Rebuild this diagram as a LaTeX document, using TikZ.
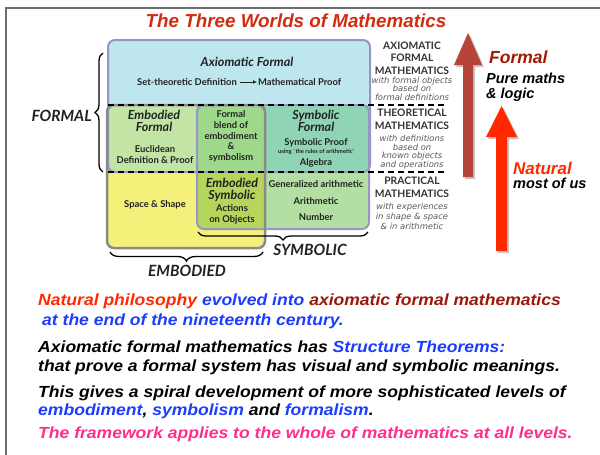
\documentclass[tikz,border=0pt]{standalone}
\usepackage{fontspec}
\setmainfont{Liberation Sans}
\newfontfamily\optfont{Lato}
\newfontfamily\notefont{DejaVu Sans}
\newfontfamily\bodyfont[FakeStretch=1.09]{Liberation Sans}
\usepackage{xcolor}
\usetikzlibrary{positioning,arrows.meta,decorations.pathreplacing}

\definecolor{titlered}{RGB}{208,44,14}
\definecolor{formalred}{RGB}{160,26,4}
\definecolor{natred}{RGB}{255,40,0}
\definecolor{evblue}{RGB}{28,60,255}
\definecolor{axred}{RGB}{156,24,10}
\definecolor{fwpink}{RGB}{255,46,140}
\definecolor{axblue}{RGB}{190,230,238}
\definecolor{embgreen}{RGB}{194,229,166}
\definecolor{blendgreen}{RGB}{158,217,139}
\definecolor{symgreen}{RGB}{143,213,181}
\definecolor{genargreen}{RGB}{180,223,163}
\definecolor{shapeyellow}{RGB}{244,240,122}
\definecolor{overlapgreen}{RGB}{181,214,90}
\definecolor{lavender}{RGB}{150,150,196}
\definecolor{embgray}{RGB}{138,138,138}
\definecolor{cellink}{RGB}{34,34,34}
\definecolor{colink}{RGB}{50,50,50}
\definecolor{notegray}{RGB}{90,90,90}
\definecolor{framegray}{RGB}{110,110,110}
\definecolor{brownarrow}{RGB}{182,68,58}
\definecolor{redarrow}{RGB}{255,40,0}

\begin{document}
\begin{tikzpicture}[x=1pt, y=-1pt,
    title/.style={inner sep=0pt, text=titlered,
        font=\bfseries\itshape\fontsize{18.8}{20}\selectfont},
    worldlbl/.style={inner sep=0pt, text=cellink,
        font=\optfont\bfseries\itshape\fontsize{15.5}{16}\selectfont},
    cellhead/.style={inner sep=0pt, align=center, text=cellink,
        font=\optfont\bfseries\itshape\fontsize{12.5}{12.5}\selectfont},
    celltext/.style={inner sep=0pt, align=center, text=cellink,
        font=\optfont\bfseries\fontsize{9.4}{10.7}\selectfont},
    tinytext/.style={inner sep=0pt, text=cellink,
        font=\optfont\bfseries\fontsize{5.8}{6}\selectfont},
    colhead/.style={inner sep=0pt, align=center, text=colink,
        font=\optfont\bfseries\fontsize{10.3}{12.5}\selectfont},
    colnote/.style={inner sep=0pt, align=center, text=notegray,
        font=\notefont\itshape\fontsize{8.4}{8.6}\selectfont},
    sidelbl/.style={inner sep=0pt, anchor=base west,
        font=\bfseries\itshape\fontsize{#1}{#1}\selectfont},
    bodyline/.style={inner sep=0pt, anchor=base west,
        font=\bodyfont\bfseries\itshape\fontsize{16.1}{16}\selectfont},
    worldbrace/.style={decorate, decoration={brace, amplitude=#1},
        line width=1.3pt},
    dashline/.style={line width=2.6pt, dash pattern=on 6pt off 4pt}
]
\fill[white] (0,0) rectangle (600,455);
\useasboundingbox (0,0) rectangle (600,455);
\draw[framegray, line width=1.5pt] (6,460) -- (6,8) -- (605,8);

\node[title] (title) at (296,21) {The Three Worlds of Mathematics};

% cell fills
\fill[shapeyellow, rounded corners=7] (107,105) rectangle (265,248);
\fill[genargreen, rounded corners=7] (197,105) rectangle (369,229);
\begin{scope}
  \clip[rounded corners=7] (107,105) rectangle (265,248);
  \fill[overlapgreen, rounded corners=7] (197,105) rectangle (369,229);
\end{scope}
\fill[axblue, rounded corners=7] (108,40) rectangle (370,120);
\fill[embgreen] (108,105) rectangle (197,172);
\fill[blendgreen] (197,105) rectangle (265,172);
\fill[symgreen] (265,105) rectangle (369,172);

% cell borders
\draw[lavender, line width=2pt, rounded corners=7] (108,40) rectangle (370,172);
\draw[lavender, line width=2pt, rounded corners=7] (197,105) rectangle (369,229);
\draw[embgray, line width=2.5pt, rounded corners=7] (107,105) rectangle (265,248);
\draw[dashline] (108,105) -- (446,105);
\draw[dashline] (108,172) -- (446,172);

% cell texts
\node[cellhead] (axform) at (247,62) {Axiomatic Formal};
\node[celltext, anchor=east] (setdef) at (237,82) {Set-theoretic Definition};
\node[celltext, right=21pt of setdef] (mathpf) {Mathematical Proof};
\draw[-{Latex[length=4pt,width=4pt]}, line width=1pt, cellink, shorten <=3pt, shorten >=1pt] (setdef) -- (mathpf);

\node[cellhead] (embformhd) at (154,121) {Embodied\\Formal};
\node[celltext] (euclid) at (155,154.5) {Euclidean\\Definition \& Proof};
\node[celltext] (blend) at (231,136.5) {Formal\\blend of\\embodiment\\\&\\symbolism};
\node[cellhead] (symformhd) at (316,121) {Symbolic\\Formal};
\node[celltext] (symproof) at (316,143) {Symbolic Proof};
\node[tinytext] (rules) at (316,152) {using `the rules of arithmetic'};
\node[celltext] (algebra) at (316,163) {Algebra};
\node[celltext] (space) at (155,205) {Space \& Shape};
\node[cellhead] (embsymhd) at (232,190) {Embodied\\Symbolic};
\node[celltext] (actions) at (232,214) {Actions\\on Objects};
\node[celltext] (genar) at (316,184) {Generalized arithmetic};
\node[celltext] (arith) at (316,201) {Arithmetic};
\node[celltext] (number) at (316,217) {Number};

% world braces
\coordinate (fbtop) at (103,53);
\coordinate (fbbot) at (103,172);
\draw[worldbrace=8pt] (fbbot) -- (fbtop);
\node[worldlbl, anchor=east] (formallbl) at (92,116) {FORMAL};
\coordinate (ebright) at (263,252);
\coordinate (ebleft) at (110,252);
\draw[worldbrace=9pt] (ebright) -- (ebleft);
\node[worldlbl] (embodiedlbl) at (187,271) {EMBODIED};
\coordinate (sbright) at (368,232);
\coordinate (sbleft) at (198,232);
\draw[worldbrace=8pt] (sbright) -- (sbleft);
\node[worldlbl] (symboliclbl) at (310,250) {SYMBOLIC};

% right column
\node[colhead] (axmath) at (412,58) {AXIOMATIC\\FORMAL\\MATHEMATICS};
\node[colnote] (axnote) at (412,88.5) {with formal objects\\based on\\formal definitions};
\node[colhead] (thmath) at (412,119.5) {THEORETICAL\\MATHEMATICS};
\node[colnote] (thnote) at (412,152) {with definitions\\based on\\known objects\\and operations};
\node[colhead] (prmath) at (412,187.5) {PRACTICAL\\MATHEMATICS};
\node[colnote, font=\notefont\itshape\fontsize{8.4}{10.2}\selectfont] (prnote) at (412,216.5) {with experiences\\in shape \& space\\\& in arithmetic};

% block arrows
\fill[gray!45] (465,179) -- (465,67) -- (456,67) -- (470,35) -- (484,67) -- (475,67) -- (475,179) -- cycle;
\fill[brownarrow] (463,177) -- (463,65) -- (454,65) -- (468,33) -- (482,65) -- (473,65) -- (473,177) -- cycle;
\fill[gray!45] (498,253) -- (498,139) -- (488,139) -- (503.5,108) -- (519,139) -- (509,139) -- (509,253) -- cycle;
\fill[redarrow] (496,251) -- (496,137) -- (486,137) -- (501.5,106) -- (517,137) -- (507,137) -- (507,251) -- cycle;

\node[sidelbl=17.5, text=formalred] (formalhd) at (489,63) {Formal};
\node[sidelbl=14.5] (pure) at (486,83) {Pure maths};
\node[sidelbl=14.5] (logic) at (486,98) {\& logic};
\node[sidelbl=17, text=natred] (naturalhd) at (513,174) {Natural};
\node[sidelbl=14.5] (most) at (513,188) {most of us};

% text below
\node[bodyline] (lineA) at (38,305) {\textcolor{natred}{Natural philosophy} \textcolor{evblue}{evolved into} \textcolor{axred}{axiomatic formal mathematics}};
\node[bodyline, text=evblue] (lineB) at (42,325) {at the end of the nineteenth century.};
\node[bodyline] (lineC) at (38,352) {Axiomatic formal mathematics has \textcolor{evblue}{Structure Theorems:}};
\node[bodyline] (lineD) at (38,371) {that prove a formal system has visual and symbolic meanings.};
\node[bodyline] (lineE) at (38,397) {This gives a spiral development of more sophisticated levels of};
\node[bodyline] (lineF) at (38,415) {\textcolor{evblue}{embodiment}, \textcolor{evblue}{symbolism} and \textcolor{evblue}{formalism}.};
\node[bodyline, text=fwpink] (lineG) at (38,438) {The framework applies to the whole of mathematics at all levels.};
\end{tikzpicture}
\end{document}
